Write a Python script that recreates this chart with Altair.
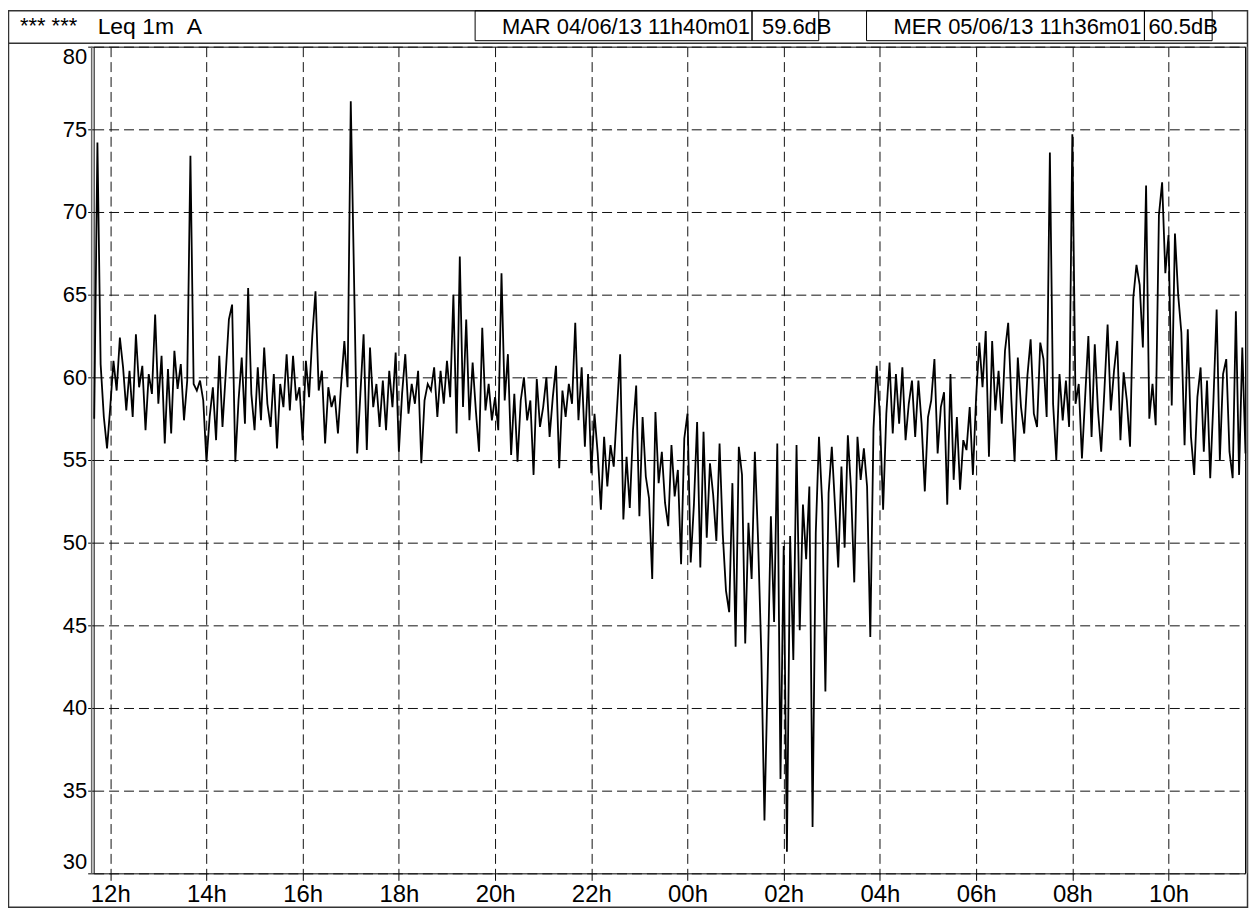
import altair as alt
import pandas as pd

# ---- data (1-min Leq at a 4-minute step) ----
START_HOUR = 11 + 40 / 60
STEP_MIN = 4

leq = [
    57.5, 74.2, 60.8, 57.6, 55.7, 58.2, 61.0, 59.2, 62.4, 60.6, 58.0, 60.4, 57.6, 62.6, 59.4,
    60.7, 56.8, 60.2, 59.0, 63.8, 58.4, 61.3, 56.0, 60.5, 56.6, 61.6, 59.3, 60.8, 57.4, 59.8,
    73.4, 59.6, 59.2, 59.8, 58.6, 54.9, 57.6, 59.4, 56.2, 61.3, 57.0, 60.2, 63.5, 64.4, 54.9,
    58.6, 61.2, 57.2, 65.4, 59.0, 56.8, 60.6, 57.4, 61.8, 58.4, 57.0, 60.2, 55.7, 59.6, 58.2,
    61.4, 58.0, 61.3, 58.6, 59.4, 56.2, 61.0, 58.8, 62.5, 65.2, 59.2, 60.4, 56.0, 59.4, 58.2,
    58.9, 56.6, 59.6, 62.2, 59.4, 76.7, 66.2, 55.4, 59.0, 62.6, 55.6, 61.8, 58.2, 59.6, 57.0,
    59.8, 56.8, 60.4, 58.2, 61.5, 55.5, 59.0, 61.4, 57.8, 59.6, 58.4, 60.4, 54.8, 58.6, 59.6,
    59.2, 60.6, 57.6, 60.4, 58.4, 61.0, 58.8, 65.0, 56.6, 67.3, 58.2, 63.5, 57.4, 60.9, 58.0,
    55.5, 63.0, 58.0, 59.6, 57.4, 58.8, 56.8, 66.3, 58.6, 61.4, 55.3, 59.0, 54.9, 58.6, 60.0,
    57.4, 58.6, 54.1, 59.9, 57.0, 58.2, 60.0, 56.4, 58.8, 60.7, 54.5, 59.2, 57.6, 59.6, 58.4,
    63.3, 57.4, 60.6, 55.8, 60.2, 54.2, 57.8, 55.4, 52.0, 56.4, 53.4, 55.9, 54.6, 58.0, 61.4,
    51.4, 55.2, 52.1, 56.8, 59.5, 51.6, 57.6, 54.0, 52.7, 47.8, 57.9, 53.6, 55.5, 52.4, 51.0,
    55.9, 52.8, 54.4, 48.7, 56.3, 57.8, 48.8, 52.3, 57.3, 48.5, 56.7, 50.3, 54.8, 52.9, 50.1,
    56.0, 50.5, 47.1, 45.8, 53.6, 43.7, 55.8, 54.1, 43.9, 51.2, 47.8, 55.5, 50.2, 43.4, 33.2,
    41.9, 51.6, 45.2, 56.0, 35.7, 49.8, 31.3, 50.4, 42.9, 55.9, 44.7, 52.3, 49.0, 53.4, 32.8,
    50.6, 56.4, 52.4, 41.0, 53.0, 55.8, 52.2, 48.5, 54.6, 49.7, 56.5, 53.2, 47.6, 56.4, 53.8,
    55.7, 53.4, 44.3, 56.9, 60.7, 57.6, 52.0, 57.8, 60.9, 56.6, 60.2, 57.2, 60.6, 56.2, 58.4,
    59.8, 56.4, 59.8, 57.2, 53.1, 57.6, 58.6, 61.1, 55.4, 58.2, 59.1, 52.3, 60.2, 53.8, 57.6,
    53.2, 56.2, 55.6, 58.2, 54.1, 58.8, 62.1, 59.4, 62.8, 55.2, 62.2, 58.0, 60.4, 57.2, 61.6,
    63.3, 58.6, 54.9, 61.2, 58.2, 56.6, 60.1, 62.3, 57.8, 57.0, 62.1, 61.1, 57.6, 73.6, 58.4,
    55.0, 60.2, 57.4, 59.8, 57.0, 74.7, 58.4, 59.6, 55.1, 58.8, 62.5, 56.4, 62.0, 58.0, 55.5,
    59.2, 63.2, 58.0, 60.4, 62.2, 56.2, 60.3, 58.6, 55.8, 64.8, 66.8, 65.6, 61.8, 71.6, 57.5,
    59.6, 57.1, 69.8, 71.8, 66.3, 68.6, 58.3, 68.7, 65.0, 62.7, 55.9, 62.9, 56.4, 54.1, 58.8,
    60.6, 55.5, 59.8, 53.9, 58.6, 64.1, 55.0, 60.2, 61.1, 55.5, 53.9, 64.0, 54.1, 61.8, 55.4,
]

x_tick_hours = [12, 14, 16, 18, 20, 22, 24, 26, 28, 30, 32, 34]
y_tick_values = [30, 35, 40, 45, 50, 55, 60, 65, 70, 75, 80]

header_marks = "*** ***"
header_title = "Leq 1m\u00a0\u00a0A"
start_label = "MAR 04/06/13 11h40m01"
start_value = "59.6dB"
end_label = "MER 05/06/13 11h36m01"
end_value = "60.5dB"

df = pd.DataFrame({
    "t": [START_HOUR + STEP_MIN * i / 60 for i in range(len(leq))],
    "leq": leq,
})

W, H = 1156, 830
FONT = "Liberation Sans"
one = pd.DataFrame({"k": [0]})

x_enc = alt.X(
    "t:Q",
    scale=alt.Scale(domain=[11.655, 35.59], nice=False, zero=False),
    axis=alt.Axis(
        values=x_tick_hours,
        labelExpr="(datum.value % 24 < 10 ? '0' : '') + (datum.value % 24) + 'h'",
        title=None, grid=True, gridDash=[10, 5], gridColor="#111111", gridWidth=1,
        tickSize=7, tickColor="black", labelFontSize=24, labelFont=FONT,
        labelColor="black", domain=False, labelPadding=2, labelFlush=False,
    ),
)
y_enc = alt.Y(
    "leq:Q",
    scale=alt.Scale(domain=[30, 80], nice=False, zero=False),
    axis=alt.Axis(
        values=y_tick_values, format="d", title=None, grid=True,
        gridDash=[10, 5], gridColor="#111111", gridWidth=1,
        tickSize=6, tickColor="black", labelFontSize=22, labelFont=FONT,
        labelColor="black", labelPadding=1, labelFlush=True, domain=False,
    ),
)

line = alt.Chart(df).mark_line(color="black", strokeWidth=1.8).encode(x=x_enc, y=y_enc)


def box(x1, x2, y1, y2, width=1.0, color="black"):
    return alt.Chart(one).mark_rect(filled=False, stroke=color, strokeWidth=width).encode(
        x=alt.value(x1), x2=alt.value(x2), y=alt.value(y1), y2=alt.value(y2)
    )


def label(txt, x, y, align="left", size=22):
    return alt.Chart(one).mark_text(
        text=txt, align=align, baseline="alphabetic", font=FONT, fontSize=size, color="black"
    ).encode(x=alt.value(x), y=alt.value(y))


def hrule(x1, x2, y, color="black", width=1.0):
    return alt.Chart(one).mark_rule(color=color, strokeWidth=width).encode(
        x=alt.value(x1), x2=alt.value(x2), y=alt.value(y)
    )


def vrule(x, y1, y2, color="black", width=1.0):
    return alt.Chart(one).mark_rule(color=color, strokeWidth=width).encode(
        x=alt.value(x), y=alt.value(y1), y2=alt.value(y2)
    )


decor = [
    box(-85.5, 1158.5, -36, 864, width=1.5, color="#333333"),
    hrule(-85.5, 1158.5, -3.5, color="#333333", width=1.5),
    box(383, 661, -36, -6),
    box(661, 728, -36, -6),
    box(776, 1055, -36, -6),
    box(1055, 1123, -36, -6),
    vrule(-2, 0, H, color="#666666", width=1.5),
    vrule(W + 2, 0, H, color="#666666", width=1.5),
    label(header_marks, -74, -14, size=22),
    label(header_title, 4, -13, size=23),
    label(start_label, 659, -13, align="right"),
    label(start_value, 671, -13),
    label(end_label, 1052, -13, align="right"),
    label(end_value, 1059, -13),
]

chart = alt.layer(line, *decor).properties(
    width=W,
    height=H,
    padding={"left": 86, "top": 37, "right": 5, "bottom": 36},
    autosize=alt.AutoSizeParams(type="none"),
    background="white",
).configure_view(stroke="black", strokeWidth=1)

chart.save("out.html", embed_options={"renderer": "svg", "actions": False})
